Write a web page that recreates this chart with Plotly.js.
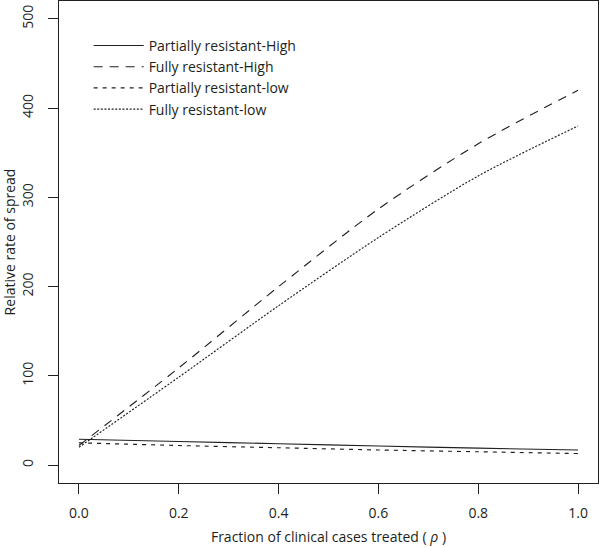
<!DOCTYPE html>
<html>
<head>
<meta charset="utf-8">
<script src="https://cdn.plot.ly/plotly-3.0.1.min.js"></script>
<style>html,body{margin:0;padding:0;background:#fff;}#chart{width:600px;height:547px;}</style>
</head>
<body>
<div id="chart"></div>
<script>
// Fraction of clinical cases treated (rho)
const rho = [0, 0.2, 0.4, 0.6, 0.8, 1.0];
// Relative rate of spread
const partialHigh = [29, 26.5, 24, 21.5, 19, 17];
const fullHigh    = [22, 109, 200, 287, 360, 420];
const partialLow  = [25, 22, 19.5, 17, 15, 13];
const fullLow     = [20, 98.6, 178.6, 255, 324, 380];

const seriesNames = ["Partially resistant-High", "Fully resistant-High", "Partially resistant-low", "Fully resistant-low"];
const xTickVals = [0, 0.2, 0.4, 0.6, 0.8, 1.0];
const xTickText = ["0.0", "0.2", "0.4", "0.6", "0.8", "1.0"];
const yTickVals = [0, 100, 200, 300, 400, 500];
const yTickText = ["0", "100", "200", "300", "400", "500"];

const ink = "#231f20";
const font = "Open Sans, sans-serif";

function tr(y, name, dash) {
  return {x: rho, y: y, name: name, type: "scatter", mode: "lines",
          line: {color: ink, width: 1.15, dash: dash, shape: "spline", smoothing: 0.8}};
}
const data = [
  tr(partialHigh, seriesNames[0], "solid"),
  tr(fullHigh, seriesNames[1], "9px,7px"),
  tr(partialLow, seriesNames[2], "4px,5px"),
  tr(fullLow, seriesNames[3], "2px,1.6px")
];

const axisCommon = {
  showline: true, mirror: true, linecolor: ink, linewidth: 1,
  showgrid: false, zeroline: false, ticks: "outside", ticklen: 10,
  tickcolor: ink, tickwidth: 1, tickfont: {family: font, size: 14, color: ink}
};

const layout = {
  width: 600, height: 547,
  margin: {l: 59, r: 2, t: 1, b: 64},
  paper_bgcolor: "#fff", plot_bgcolor: "#fff",
  font: {family: font, size: 14, color: ink},
  xaxis: Object.assign({}, axisCommon, {
    range: [-0.04, 1.04], tickmode: "array", tickvals: xTickVals, ticktext: xTickText,
    ticklabelstandoff: 7,
    title: {text: "Fraction of clinical cases treated ( <i>ρ</i> )", font: {family: font, size: 14, color: ink}, standoff: 11}
  }),
  yaxis: Object.assign({}, axisCommon, {
    range: [-20, 520], tickmode: "array", tickvals: yTickVals, ticktext: yTickText,
    tickangle: -90, ticklabelstandoff: 9,
    title: {text: "Relative rate of spread", font: {family: font, size: 14, color: ink}, standoff: 2}
  }),
  showlegend: true,
  legend: {x: 0.055, y: 0.94, xanchor: "left", yanchor: "top", bgcolor: "rgba(0,0,0,0)",
           font: {family: font, size: 14, color: ink}, tracegroupgap: 0, itemwidth: 50}
};

Plotly.newPlot("chart", data, layout, {displayModeBar: false, staticPlot: true});
</script>
</body>
</html>
